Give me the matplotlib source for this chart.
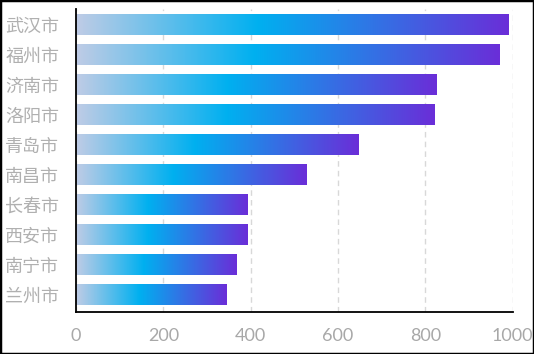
import numpy as np
import matplotlib.pyplot as plt
from matplotlib.colors import LinearSegmentedColormap
from matplotlib.patches import Rectangle

plt.rcParams['font.family'] = ['Noto Sans CJK SC', 'DejaVu Sans']

# data (top to bottom in the picture)
cities = ['武汉市', '福州市', '济南市', '洛阳市', '青岛市',
          '南昌市', '长春市', '西安市', '南宁市', '兰州市']
values = [990, 971, 825, 820, 648, 529, 392, 392, 367, 344]
xticks = [0, 200, 400, 600, 800, 1000]

grad = LinearSegmentedColormap.from_list(
    'bar', [(0.0, '#bfcce6'), (0.42, '#00b0f0'), (1.0, '#6a2ed8')])


def main():
    fig = plt.figure(figsize=(5.34, 3.54), dpi=100)
    ax = fig.add_axes([0.1423, 0.12, 0.8177, 0.8546])

    ypos = np.arange(len(cities))[::-1]
    bars = ax.barh(ypos, values, height=0.7, color='none', zorder=2)

    # gradient fill, stretched over each bar
    g = np.linspace(0, 1, 256).reshape(1, -1)
    for b in bars:
        x0, y0 = b.get_x(), b.get_y()
        w, h = b.get_width(), b.get_height()
        im = ax.imshow(g, cmap=grad, aspect='auto', zorder=2,
                       extent=[x0, x0 + w, y0, y0 + h], interpolation='bilinear')
        im.set_clip_path(b)

    ax.set_xlim(0, 1000)
    ax.set_ylim(-0.56, 9.52)
    ax.set_xticks(xticks)
    ax.set_yticks(ypos)
    ax.set_yticklabels(cities)

    ax.tick_params(axis='y', length=0, pad=12, labelsize=13, labelcolor='#b0b0b0')
    ax.tick_params(axis='x', length=0, pad=12, labelcolor='#a8a8a8')
    for t in ax.get_xticklabels():
        t.set_fontfamily('Lato')
        t.set_fontsize(13)

    ax.grid(axis='x', linestyle=(0, (4, 3)), color='#d8d8d8', linewidth=1, zorder=0)
    ax.set_axisbelow(True)

    ax.spines['top'].set_visible(False)
    ax.spines['right'].set_visible(False)
    ax.spines['left'].set_linewidth(1.3)
    ax.spines['bottom'].set_linewidth(1.3)

    # black frame around the whole picture
    fig.patches.append(Rectangle((0, 0), 1, 1, transform=fig.transFigure,
                                 fill=False, edgecolor='black', linewidth=2.5))

    fig.savefig('out.png', dpi=100)


if __name__ == "__main__":
    main()
